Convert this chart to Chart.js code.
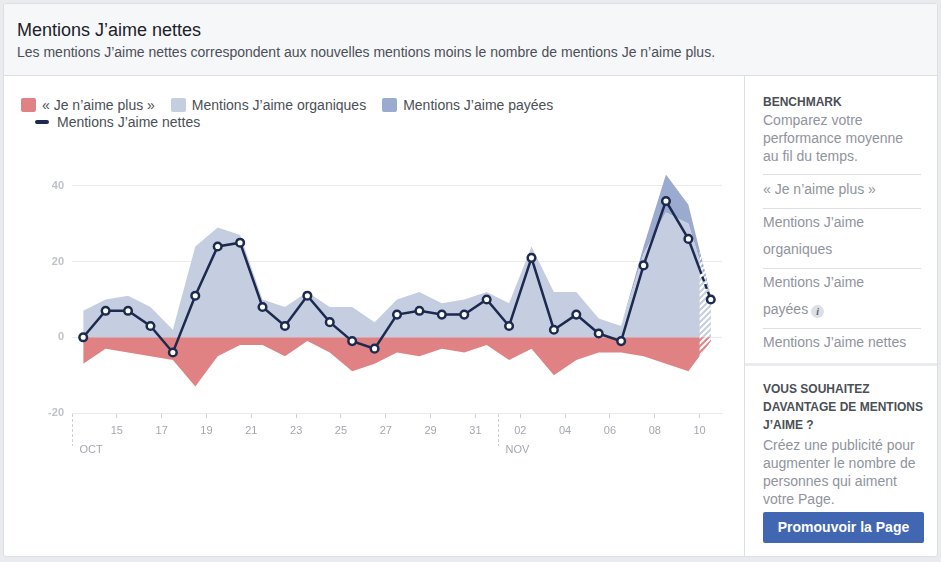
<!DOCTYPE html>
<html lang="fr">
<head>
<meta charset="utf-8">
<title>Mentions J’aime nettes</title>
<script src="https://cdn.jsdelivr.net/npm/chart.js@4.4.1/dist/chart.umd.min.js"></script>
<style>
  html, body { margin: 0; padding: 0; }
  body { width: 941px; height: 562px; background: #e9ebee; font-family: Helvetica, Arial, sans-serif; position: relative; overflow: hidden; }
  .card { position: absolute; left: 3px; top: 3px; width: 935px; height: 554px; box-sizing: border-box; border: 1px solid #dddfe2; border-radius: 3px; background: #fff; overflow: hidden; }
  .head { position: absolute; left: 0; top: 0; right: 0; height: 71px; background: #f6f7f9; border-bottom: 1px solid #dddfe2; }
  .title { position: absolute; left: 13px; top: 15px; font-size: 18px; line-height: 22px; color: #1d2129; }
  .sub { position: absolute; left: 13px; top: 39px; font-size: 14px; line-height: 18px; color: #4b4f56; }
  #legend { position: absolute; left: 17px; top: 92px; font-size: 14px; line-height: 18px; color: #4b4f56; }
  .row { display: flex; align-items: center; height: 18px; white-space: nowrap; }
  .row + .row { margin-top: -1px; }
  .item { display: flex; align-items: center; margin-right: 16px; }
  .box { width: 15px; height: 14px; border-radius: 2px; margin-right: 6px; }
  .dash { width: 14px; height: 4px; border-radius: 2px; margin: 0 8px 0 14px; }
  #wrap { position: absolute; left: 10px; top: 146px; width: 722px; height: 310px; }
  .side { position: absolute; left: 740px; top: 72px; width: 192px; bottom: 0; border-left: 1px solid #dddfe2; }
  .bench { position: absolute; left: 18px; top: 17px; width: 158px; }
  .h { font-size: 12px; line-height: 18px; font-weight: bold; color: #4b4f56; }
  .p { font-size: 14px; line-height: 18px; color: #90949c; }
  .list { margin-top: 9px; }
  .li { border-top: 1px solid #dddfe2; font-size: 14px; line-height: 27.5px; padding-bottom: 4px; color: #90949c; }
  .li:first-child { padding-top: 1px; }
  .info { display: inline-block; width: 13px; height: 13px; border-radius: 50%; background: #dcdfe4; color: #616770; font: italic bold 10px Georgia, serif; line-height: 13px; text-align: center; vertical-align: -1px; margin-left: 3px; }
  .band { position: absolute; left: 0; right: 0; top: 287px; height: 3px; background: #e9ebee; }
  .promo { position: absolute; left: 18px; top: 304px; width: 160px; }
  .promo .p { margin-top: 2px; }
  .btn { position: absolute; left: 18px; top: 436px; width: 161px; height: 31px; background: #4267b2; border-radius: 2px; color: #fff; font-size: 14px; font-weight: bold; line-height: 31px; text-align: center; }
</style>
</head>
<body>
<div class="card">
  <div class="head">
    <div class="title">Mentions J’aime nettes</div>
    <div class="sub">Les mentions J’aime nettes correspondent aux nouvelles mentions moins le nombre de mentions Je n’aime plus.</div>
  </div>
  <div id="legend"></div>
  <div id="wrap"><canvas id="netLikes"></canvas></div>
  <div class="side">
    <div class="bench">
      <div class="h">BENCHMARK</div>
      <div class="p">Comparez votre<br>performance moyenne<br>au fil du temps.</div>
      <div class="list">
        <div class="li">« Je n’aime plus »</div>
        <div class="li">Mentions J’aime<br>organiques</div>
        <div class="li">Mentions J’aime<br>payées<span class="info">i</span></div>
        <div class="li">Mentions J’aime nettes</div>
      </div>
    </div>
    <div class="band"></div>
    <div class="promo">
      <div class="h">VOUS SOUHAITEZ<br>DAVANTAGE DE MENTIONS<br>J’AIME ?</div>
      <div class="p">Créez une publicité pour<br>augmenter le nombre de<br>personnes qui aiment<br>votre Page.</div>
    </div>
    <div class="btn">Promouvoir la Page</div>
  </div>
</div>
<script>
// Daily values, 13 Oct -> 10 Nov (last day still incomplete)
const days = ["13", "14", "15", "16", "17", "18", "19", "20", "21", "22", "23", "24", "25", "26", "27", "28", "29", "30", "31",
  "01", "02", "03", "04", "05", "06", "07", "08", "09", "10"];
const unlikes = [-7, -3, -4, -5, -6, -13, -5, -2, -2, -5, -1, -4, -9, -7, -4, -5, -3, -4, -2, -6, -3, -10, -6, -4, -4, -5, -7, -9, -1];
const organic = [7, 10, 11, 8, 2, 24, 29, 27, 10, 8, 12, 8, 8, 4, 10, 12, 9, 10, 12, 9, 24, 12, 12, 5, 3, 22, 33, 30, 11];
const paid = [0, 0, 0, 0, 0, 0, 0, 0, 0, 0, 0, 0, 0, 0, 0, 0, 0, 0, 0, 0, 0, 0, 0, 0, 0, 2, 10, 5, 0];
const net = [0, 7, 7, 3, -4, 11, 24, 25, 8, 3, 11, 4, -1, -3, 6, 7, 6, 6, 10, 3, 21, 2, 6, 1, -1, 19, 36, 26, 10];

const xTicks = ["15", "17", "19", "21", "23", "25", "27", "29", "31", "02", "04", "06", "08", "10"];
const yTicks = [-20, 0, 20, 40];
const months = ["OCT", "NOV"];
const monthStarts = ["13", "01"];

const RED = "#e08283";
const ORG = "#c5cee0";
const PAID = "#9aabcf";
const NAVY = "#1d2a50";

// each value sits in the middle of its day
const pts = (arr) => arr.map((v, i) => ({ x: i + 0.5, y: v }));

function stripes(ctx, color) {
  const c = document.createElement("canvas");
  c.width = 6;
  c.height = 6;
  const g = c.getContext("2d");
  g.fillStyle = "#fff";
  g.fillRect(0, 0, 6, 6);
  g.strokeStyle = color;
  g.lineWidth = 2;
  g.beginPath();
  g.moveTo(-1, 7); g.lineTo(7, -1);
  g.moveTo(-4, 4); g.lineTo(4, -4);
  g.moveTo(2, 10); g.lineTo(10, 2);
  g.stroke();
  return ctx.createPattern(c, "repeat");
}

// hatch the incomplete last day and dash the net line there
const partialDay = {
  id: "partialDay",
  beforeDatasetDraw(chart, args) {
    if (args.index !== 3) return;
    const { ctx, chartArea, scales } = chart;
    const xCut = scales.x.getPixelForValue(days.length - 1);
    const zeroY = scales.y.getPixelForValue(0);
    const line = (i) => chart.getDatasetMeta(i).data.map((p) => ({ x: p.x, y: p.y }));
    const base = line(1).map((p) => ({ x: p.x, y: zeroY }));
    const shapes = [[base, line(0), RED], [line(1), base, ORG], [line(2), line(1), PAID]];

    ctx.save();
    ctx.beginPath();
    ctx.rect(xCut, chartArea.top, chartArea.right - xCut, chartArea.height);
    ctx.clip();
    shapes.forEach(([top, bottom, color]) => {
      ctx.beginPath();
      top.forEach((p) => ctx.lineTo(p.x, p.y));
      bottom.slice().reverse().forEach((p) => ctx.lineTo(p.x, p.y));
      ctx.closePath();
      ctx.fillStyle = stripes(ctx, color);
      ctx.fill();
    });
    ctx.restore();

    const p = args.meta.data;
    const a = p[p.length - 2], b = p[p.length - 1];
    const yCut = a.y + (xCut - a.x) / (b.x - a.x) * (b.y - a.y);
    ctx.save();
    ctx.strokeStyle = NAVY;
    ctx.lineWidth = 2.5;
    ctx.beginPath();
    ctx.moveTo(a.x, a.y);
    ctx.lineTo(xCut, yCut);
    ctx.stroke();
    ctx.setLineDash([5, 3]);
    ctx.beginPath();
    ctx.moveTo(xCut, yCut);
    ctx.lineTo(b.x, b.y);
    ctx.stroke();
    ctx.restore();
  },
};

// month names under the day ticks
const monthLabels = {
  id: "monthLabels",
  afterDraw(chart) {
    const { ctx, chartArea, scales } = chart;
    months.forEach((m, k) => {
      const px = Math.round(scales.x.getPixelForValue(days.indexOf(monthStarts[k]))) + 0.5;
      ctx.save();
      ctx.strokeStyle = "#ccd0d5";
      ctx.lineWidth = 1;
      ctx.setLineDash([3, 2]);
      ctx.beginPath();
      ctx.moveTo(px, chartArea.bottom + 1);
      ctx.lineTo(px, chartArea.bottom + 33);
      ctx.stroke();
      ctx.fillStyle = "#a3a8b0";
      ctx.font = "11px Helvetica, Arial, sans-serif";
      ctx.textBaseline = "middle";
      ctx.fillText(m, px + 7, chartArea.bottom + 37);
      ctx.restore();
    });
  },
};

const areaStyle = { borderWidth: 0, borderColor: "rgba(0,0,0,0)", pointRadius: 0, tension: 0 };

// "order" also sets the stacking order: organic first, paid on top of it
const ctx = document.getElementById("netLikes").getContext("2d");
const netChart = new Chart(ctx, {
  type: "line",
  data: {
    datasets: [
      { label: "« Je n’aime plus »", data: pts(unlikes), stack: "neg", fill: "origin", backgroundColor: RED, order: 3, ...areaStyle },
      { label: "Mentions J’aime organiques", data: pts(organic), stack: "pos", fill: "origin", backgroundColor: ORG, order: 1, ...areaStyle },
      { label: "Mentions J’aime payées", data: pts(paid), stack: "pos", fill: "-1", backgroundColor: PAID, order: 2, ...areaStyle },
      {
        label: "Mentions J’aime nettes",
        data: pts(net),
        stack: "net",
        fill: false,
        order: 0,
        borderColor: NAVY,
        borderWidth: 2.5,
        tension: 0,
        pointRadius: 3.8,
        pointBorderWidth: 2.5,
        pointBackgroundColor: "#fff",
        pointBorderColor: NAVY,
        segment: {
          borderColor: (c) => (c.p1DataIndex === net.length - 1 ? "rgba(0,0,0,0)" : undefined),
        },
      },
    ],
  },
  options: {
    responsive: true,
    maintainAspectRatio: false,
    animation: false,
    layout: { padding: { top: 17, right: 14, left: 0, bottom: 0 } },
    plugins: { legend: { display: false }, tooltip: { enabled: false } },
    scales: {
      x: {
        type: "linear",
        min: 0,
        max: days.length,
        afterBuildTicks: (a) => { a.ticks = xTicks.map((d) => ({ value: days.indexOf(d) })); },
        afterFit: (a) => { a.height = 47; },
        grid: { drawOnChartArea: false, tickLength: 5, color: "#ccd0d5" },
        border: { color: "#e9ebee" },
        ticks: {
          autoSkip: false,
          maxRotation: 0,
          padding: 6,
          color: "#a3a8b0",
          font: { family: "Helvetica, Arial, sans-serif", size: 11 },
          callback: (v) => days[v],
        },
      },
      y: {
        stacked: true,
        min: -20,
        max: 45,
        afterBuildTicks: (a) => { a.ticks = yTicks.map((v) => ({ value: v })); },
        afterFit: (a) => { a.width = 58; },
        grid: { color: "#e9ebee", drawTicks: false },
        border: { display: false },
        ticks: { padding: 8, color: "#bec2c9", font: { family: "Helvetica, Arial, sans-serif", size: 11, weight: "bold" } },
      },
    },
  },
  plugins: [partialDay, monthLabels],
});

// html legend, built from the datasets
const legend = document.getElementById("legend");
const row1 = document.createElement("div");
const row2 = document.createElement("div");
row1.className = row2.className = "row";
netChart.data.datasets.forEach((ds) => {
  const item = document.createElement("div");
  item.className = "item";
  const mark = document.createElement("span");
  if (ds.fill) {
    mark.className = "box";
    mark.style.background = ds.backgroundColor;
    row1.appendChild(item);
  } else {
    mark.className = "dash";
    mark.style.background = ds.borderColor;
    row2.appendChild(item);
  }
  item.appendChild(mark);
  item.appendChild(document.createTextNode(ds.label));
});
legend.appendChild(row1);
legend.appendChild(row2);
</script>
</body>
</html>
